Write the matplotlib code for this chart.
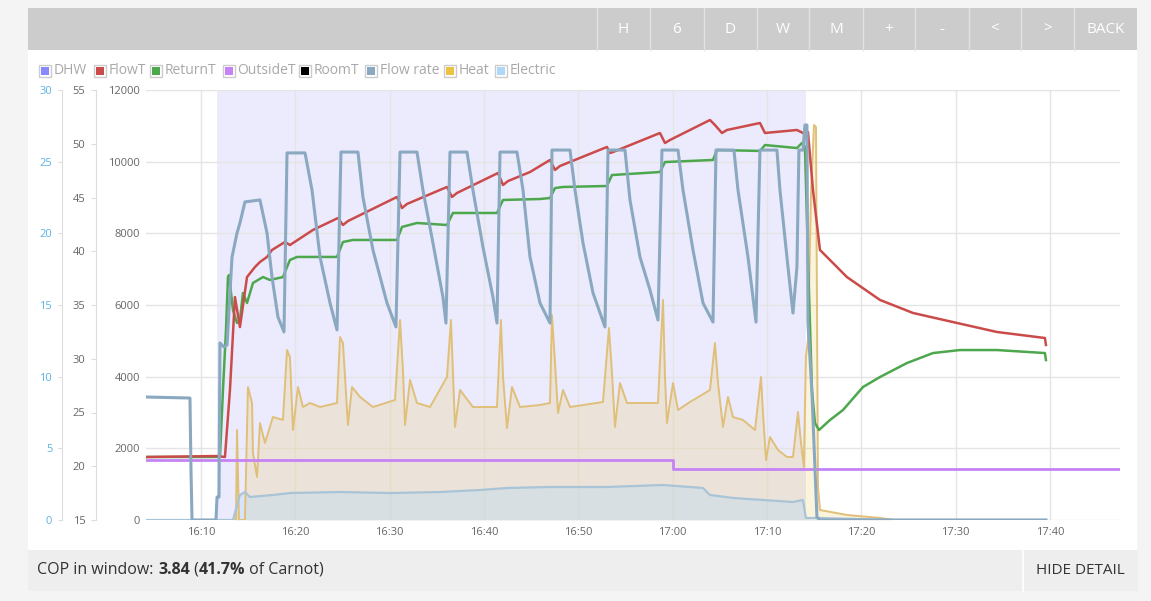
import numpy as np
import matplotlib.pyplot as plt
from matplotlib.patches import Rectangle

plt.rcParams['font.family'] = ['Open Sans', 'DejaVu Sans']

# times are minutes after 16:00
dhw_start, dhw_end = 11.70, 74.13

flowT_time = [4.17, 11.70, 12.54, 13.07, 13.60, 14.13, 14.88, 15.72, 16.25, 17.00, 17.53, 18.90, 19.43,
              21.87, 24.52, 25.05, 25.58, 30.78, 31.31, 31.84, 36.08, 36.61, 37.14, 41.49, 42.02, 42.55,
              44.88, 47.00, 47.53, 48.06, 53.04, 53.35, 53.68, 58.66, 59.19, 59.72, 63.96, 64.49, 65.23,
              65.76, 69.26, 69.79, 73.18, 73.82, 74.35, 74.88, 75.62, 78.48, 81.98, 85.48, 90.14, 94.38,
              99.47, 99.58]
flowT = [20.86, 20.95, 20.86, 27.09, 35.74, 32.95, 37.60, 38.53, 39.00, 39.47, 40.12, 40.86, 40.58,
         41.98, 43.09, 42.44, 42.81, 45.05, 44.02, 44.40, 45.98, 45.05, 45.42, 47.28, 46.16, 46.53,
         47.37, 48.49, 47.56, 47.93, 49.70, 49.14, 49.23, 51.00, 50.07, 50.35, 52.21, 51.74, 51.00,
         51.28, 51.93, 51.00, 51.28, 51.00, 51.09, 45.70, 40.12, 37.60, 35.47, 34.26, 33.33, 32.49,
         31.93, 31.28]

returnT_time = [4.17, 11.70, 12.01, 12.33, 12.65, 12.86, 12.97, 13.39, 13.82, 14.13, 14.45, 14.88, 15.51,
                16.57, 17.31, 18.69, 19.43, 20.18, 24.42, 25.05, 26.11, 30.78, 31.31, 32.90, 36.08, 36.71,
                41.38, 42.02, 45.94, 47.00, 47.53, 48.38, 53.04, 53.57, 58.66, 59.19, 64.28, 64.70, 69.26,
                69.79, 73.18, 73.71, 74.03, 74.35, 74.77, 75.09, 75.52, 76.68, 78.06, 80.18, 81.98, 84.84,
                87.60, 90.46, 94.38, 99.47, 99.58]
returnT = [20.86, 20.86, 20.86, 27.09, 32.67, 37.60, 37.79, 34.53, 33.33, 33.60, 36.12, 35.19, 37.05,
           37.60, 37.33, 37.60, 39.19, 39.47, 39.47, 40.86, 41.05, 41.05, 42.26, 42.63, 42.44, 43.56,
           43.56, 44.77, 44.86, 44.95, 45.88, 45.98, 46.07, 47.09, 47.37, 48.30, 48.49, 49.42, 49.33,
           49.88, 49.60, 50.07, 49.70, 39.47, 27.09, 24.02, 23.37, 24.30, 25.23, 27.37, 28.30, 29.60,
           30.53, 30.81, 30.81, 30.53, 29.88]

outsideT_time = [4.17, 60.04, 60.04, 107.43]
outsideT = [20.58, 20.58, 19.74, 19.74]

flowrate_time = [4.17, 8.83, 8.94, 9.05, 11.59, 11.70, 11.91, 12.01, 12.44, 12.76, 13.29, 13.82, 14.13,
                 14.66, 16.25, 17.00, 17.53, 18.16, 18.80, 19.12, 21.03, 21.77, 22.62, 23.68, 24.42,
                 24.84, 26.64, 27.17, 28.23, 29.72, 30.67, 31.10, 32.90, 33.53, 34.59, 35.65, 35.97,
                 36.40, 38.20, 38.83, 39.89, 40.95, 41.38, 41.70, 43.50, 44.14, 44.88, 45.94, 47.00,
                 47.21, 49.12, 49.65, 50.50, 51.56, 52.83, 53.15, 54.95, 55.48, 56.54, 57.60, 58.45,
                 58.87, 60.57, 61.10, 62.16, 63.22, 64.28, 64.60, 66.50, 66.93, 67.99, 68.84, 69.26,
                 71.06, 71.38, 72.23, 72.76, 73.18, 73.39, 73.82, 74.03, 74.24, 74.35, 74.77, 75.30,
                 75.62, 99.58]
flowrate = [8.58, 8.51, 3.49, 0.0, 0.0, 1.60, 1.60, 12.35, 12.07, 12.21, 18.35, 20.02, 20.72,
            22.19, 22.33, 20.02, 16.95, 14.16, 13.12, 25.61, 25.61, 23.02, 18.35, 15.14, 13.26,
            25.67, 25.67, 22.53, 18.84, 15.14, 13.47, 25.67, 25.67, 23.02, 19.33, 15.56, 13.74,
            25.67, 25.67, 23.02, 19.05, 15.56, 13.74, 25.67, 25.67, 23.02, 18.35, 15.14, 13.74,
            25.81, 25.81, 23.02, 19.33, 15.84, 13.47, 25.81, 25.81, 22.33, 18.35, 16.05, 13.95,
            25.81, 25.81, 23.02, 18.84, 15.14, 13.81, 25.81, 25.81, 23.02, 18.35, 13.81, 25.81,
            25.81, 23.02, 17.65, 14.44, 17.65, 25.81, 25.81, 27.56, 27.56, 13.74, 8.86, 0.21,
            0.0, 0.0]

heat_time = [4.17, 13.71, 13.82, 14.03, 14.66, 14.98, 15.41, 15.51, 15.94, 16.25, 16.78, 17.63, 18.69,
             19.12, 19.43, 19.75, 20.28, 20.81, 21.56, 22.62, 24.42, 24.74, 25.05, 25.58, 26.01, 26.86,
             28.23, 30.57, 31.10, 31.41, 31.63, 32.16, 32.90, 34.28, 36.08, 36.50, 36.93, 37.46, 38.83,
             41.38, 41.80, 42.02, 42.44, 42.97, 43.82, 45.94, 47.00, 47.21, 47.53, 47.85, 48.38, 49.12,
             52.62, 53.25, 53.57, 53.89, 54.42, 55.16, 58.45, 58.98, 59.19, 59.40, 60.04, 60.57, 61.84,
             63.96, 64.49, 64.81, 65.34, 65.87, 66.40, 67.46, 68.73, 69.37, 69.58, 69.90, 70.32, 71.17,
             72.12, 72.76, 73.29, 73.61, 73.92, 74.13, 74.35, 74.67, 74.99, 75.20, 75.41, 75.62, 78.48,
             81.98, 83.57, 99.58]
heat = [0, 0, 2512, 0, 0, 3712, 3265, 1870, 1200, 2707, 2149, 2874, 2791,
        4744, 4549, 2512, 3712, 3153, 3265, 3153, 3265, 5107, 4940, 2651, 3712, 3433,
        3153, 3349, 5581, 4186, 2651, 3907, 3265, 3153, 3991, 5581, 2595, 3628, 3153,
        3153, 5581, 3991, 2567, 3712, 3153, 3209, 3265, 5721, 4381, 2986, 3628, 3153,
        3293, 5358, 4102, 2595, 3823, 3265, 3265, 6140, 3991, 2707, 3823, 3070, 3293,
        3628, 4940, 3823, 2595, 3433, 2874, 2791, 2512, 3991, 2986, 1674, 2316, 1953,
        1758, 1758, 3014, 2149, 1479, 4549, 5023, 9125, 11023, 10967, 921, 279, 140,
        56, 0, 0]

elec_time = [4.17, 13.39, 14.13, 14.66, 15.19, 17.63, 19.43, 24.74, 30.04, 35.34, 39.58, 42.44, 47.00,
             53.04, 58.98, 63.22, 63.96, 66.46, 72.76, 73.82, 74.13, 75.62, 83.57, 99.58]
elec = [0, 0, 698, 781, 642, 698, 753, 781, 753, 781, 837, 893, 921,
        921, 977, 893, 698, 614, 502, 558, 56, 56, 0, 0]

tick_pos = [10, 20, 30, 40, 50, 60, 70, 80, 90, 100]
tick_lab = ['16:10', '16:20', '16:30', '16:40', '16:50', '17:00', '17:10', '17:20', '17:30', '17:40']

buttons = ['H', '6', 'D', 'W', 'M', '+', '-', '<', '>', 'BACK']
legend_names = ['DHW', 'FlowT', 'ReturnT', 'OutsideT', 'RoomT', 'Flow rate', 'Heat', 'Electric']
legend_cols = ['#8888ff', '#cb4b4b', '#4da74d', '#c583f5', '#000000', '#8aa9c1', '#edc240', '#afd8f8']

W, H = 1151, 601
fig = plt.figure(figsize=(W / 100, H / 100), dpi=100)
fig.patch.set_facecolor('#f4f4f4')

bg = fig.add_axes([0, 0, 1, 1])
bg.set_xlim(0, W)
bg.set_ylim(H, 0)
bg.axis('off')
bg.add_patch(Rectangle((28, 8), 1109, 42, color='#cccccc', lw=0))
bg.add_patch(Rectangle((28, 50), 1109, 500, color='white', lw=0))
bg.add_patch(Rectangle((28, 550), 1110, 41, color='#eeeeee', lw=0))

# button bar
seps = [597, 650, 704, 757, 809, 863, 915, 969, 1021, 1074, 1137]
for i, b in enumerate(buttons):
    bg.plot([seps[i], seps[i]], [8, 50], color='#e2e2e2', lw=1)
    bg.text((seps[i] + seps[i + 1]) / 2, 29.5, b, color='white', ha='center', va='center', fontsize=11)

# legend
box_x = [39.5, 94, 150.5, 223, 299.5, 365.5, 444, 495]
for bx, name, c in zip(box_x, legend_names, legend_cols):
    bg.add_patch(Rectangle((bx, 64.5), 12, 12, facecolor='white', edgecolor='#cccccc', lw=1))
    bg.add_patch(Rectangle((bx + 2, 66.5), 8, 8, color=c, lw=0))
    bg.text(bx + 14.5, 71, name, color='#a8a8a8', ha='left', va='center', fontsize=10)

# COP line
parts = [('COP in window: ', 'normal'), ('3.84', 'bold'), (' (', 'normal'),
         ('41.7%', 'bold'), (' of Carnot)', 'normal')]
prev = bg.text(37.5, 570, parts[0][0], color='#333333', ha='left', va='center', fontsize=11.5)
for s, w in parts[1:]:
    prev = bg.annotate(s, xy=(1, 0), xycoords=prev, ha='left', va='bottom',
                       color='#333333', fontsize=11.5, fontweight=w)
bg.plot([1023, 1023], [550, 591], color='white', lw=1.2)
bg.text(1036, 571, 'HIDE DETAIL', color='#333333', ha='left', va='center', fontsize=11)

# main chart
ax = fig.add_axes([146 / W, (H - 520) / H, 974 / W, 430 / H])
ax.set_xlim(4.17, 107.43)
ax.set_ylim(0, 12000)
ax.axvspan(dhw_start, dhw_end, color='#ebebfd', lw=0, zorder=0)
ax.set_axisbelow(True)
ax.grid(color='#e4e4e4', lw=1)
for s in ax.spines.values():
    s.set_visible(False)
ax.set_xticks(tick_pos)
ax.set_xticklabels(tick_lab)
ax.set_yticks(np.arange(0, 12001, 2000))
ax.tick_params(axis='x', length=0, pad=5, labelsize=8, labelcolor='#666666')
ax.tick_params(axis='y', length=0, pad=4.3, labelsize=8, labelcolor='#666666')

ax.fill_between(heat_time, heat, color='#edc240', alpha=0.18, lw=0)
ax.plot(heat_time, heat, color='#e0bf78', lw=1.4)
ax.fill_between(elec_time, elec, color='#afd8f8', alpha=0.32, lw=0)
ax.plot(elec_time, elec, color='#a9c4d6', lw=1.6)

tax = ax.twinx()
tax.set_ylim(15, 55)
tax.set_yticks(np.arange(15, 56, 5))
tax.yaxis.tick_left()
for k in ['right', 'top', 'bottom']:
    tax.spines[k].set_visible(False)
tax.spines['left'].set_position(('outward', 36))
tax.spines['left'].set_color('#dddddd')
tax.tick_params(axis='y', length=3.6, color='#dddddd', pad=4, labelsize=8, labelcolor='#666666')
tax.plot(outsideT_time, outsideT, color='#c583f5', lw=2)
tax.plot(returnT_time, returnT, color='#4da74d', lw=1.8)
tax.plot(flowT_time, flowT, color='#cb4b4b', lw=1.8)

fax = ax.twinx()
fax.set_ylim(0, 30)
fax.set_yticks(np.arange(0, 31, 5))
fax.yaxis.tick_left()
for k in ['right', 'top', 'bottom']:
    fax.spines[k].set_visible(False)
fax.spines['left'].set_position(('outward', 60.5))
fax.spines['left'].set_color('#dddddd')
fax.tick_params(axis='y', length=3, color='#dddddd', pad=4, labelsize=8, labelcolor='#5ab4e6')
fax.plot(flowrate_time, flowrate, color='#8aa9c1', lw=2.2)

fig.savefig('out.png', dpi=100, facecolor=fig.get_facecolor())
